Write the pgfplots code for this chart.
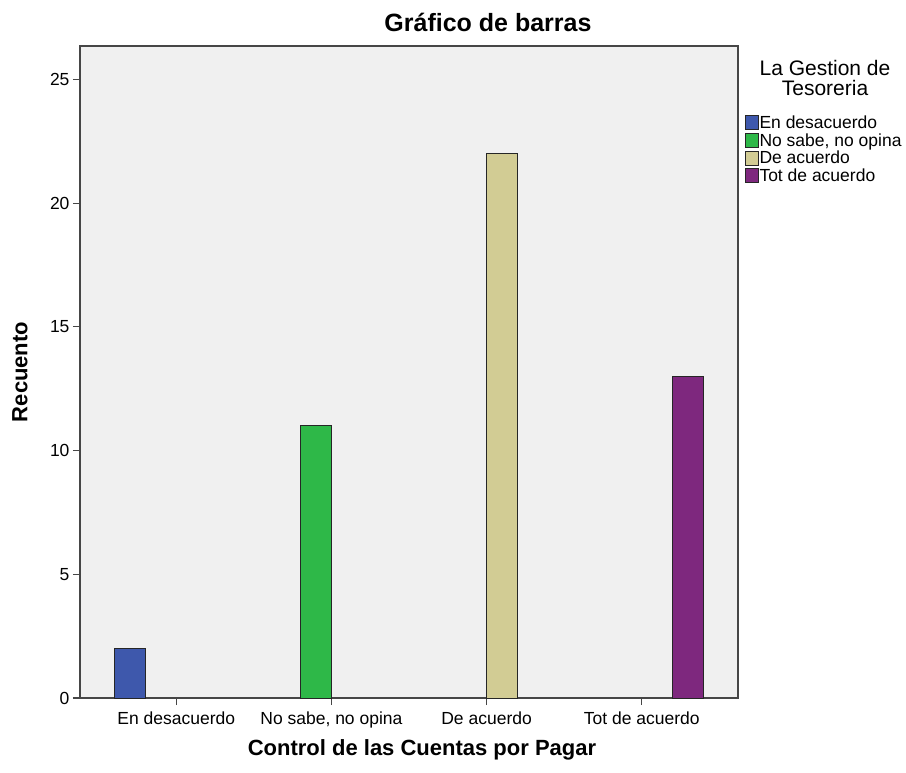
\documentclass[border=0pt]{standalone}
\usepackage{pgfplots}
\pgfplotsset{compat=1.18}
\usepackage{fontspec}
\setmainfont{Liberation Sans}

\definecolor{cBlue}{RGB}{62,88,172}
\definecolor{cGreen}{RGB}{46,184,72}
\definecolor{cTan}{RGB}{210,204,148}
\definecolor{cPurple}{RGB}{126,40,126}
\definecolor{cBack}{RGB}{240,240,240}
\definecolor{cFrame}{RGB}{70,70,70}

\begin{document}
\begin{tikzpicture}
\path[use as bounding box] (0pt,0pt) rectangle (906pt,772pt);
\begin{axis}[
    name=ax,
    at={(80pt,74pt)}, anchor=south west,
    scale only axis,
    width=658pt, height=652pt,
    ybar,
    bar width=0.2,
    xmin=-0.62, xmax=3.62,
    ymin=0, ymax=26.35,
    xtick={0,1,2,3},
    xticklabels={En desacuerdo,{No sabe, no opina},De acuerdo,Tot de acuerdo},
    ytick={0,5,10,15,20,25},
    tick align=outside,
    tick pos=left,
    major tick length=7pt,
    every tick/.style={cFrame, line width=1.2pt},
    axis line style={cFrame, line width=1.3pt},
    axis background/.style={fill=cBack},
    tick label style={font=\fontsize{17.5}{19}\selectfont},
    xticklabel style={yshift=-3pt},
    /pgf/number format/assume math mode=true,
    title={Gráfico de barras},
    title style={font=\fontsize{25}{28}\selectfont\bfseries, at={(axis description cs:0.62,1)}, anchor=center, yshift=18pt},
    xlabel={Control de las Cuentas por Pagar},
    xlabel style={font=\fontsize{22}{24}\selectfont\bfseries, at={(axis description cs:0.5,0)}, anchor=center, yshift=-52pt, xshift=13pt},
    ylabel={Recuento},
    ylabel style={font=\fontsize{22}{24}\selectfont\bfseries, at={(axis description cs:0,0.5)}, anchor=center, yshift=60pt},
    legend style={at={(axis description cs:1,1)}, anchor=north west, xshift=4pt, yshift=-67pt,
        draw=none, fill=none, font=\fontsize{17.5}{19}\selectfont, row sep=2.5pt,
        nodes={inner sep=0.5pt}},
    legend cell align=left,
    legend image code/.code={\draw[#1, draw=black!85, line width=0.8pt] (0pt,-7pt) rectangle (13pt,7pt);},
]
\addplot[fill=cBlue, draw=black!85, line width=1pt, bar shift=-0.3] coordinates {(0,2)};
\addplot[fill=cGreen, draw=black!85, line width=1pt, bar shift=-0.1] coordinates {(1,11)};
\addplot[fill=cTan, draw=black!85, line width=1pt, bar shift=0.1] coordinates {(2,22)};
\addplot[fill=cPurple, draw=black!85, line width=1pt, bar shift=0.3] coordinates {(3,13)};
\legend{En desacuerdo,{No sabe, no opina},De acuerdo,Tot de acuerdo}
\end{axis}
\node[align=center, font=\fontsize{21}{20}\selectfont] at ([xshift=87pt, yshift=-32pt]ax.north east) {La Gestion de\\Tesoreria};
\end{tikzpicture}
\end{document}
